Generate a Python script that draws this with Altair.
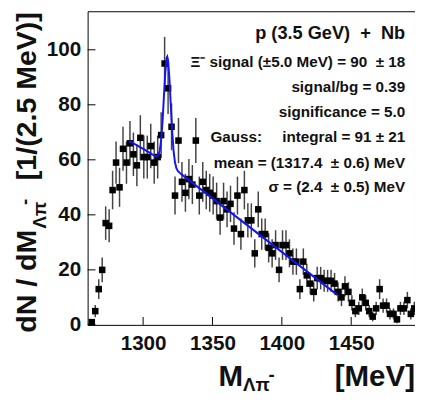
import altair as alt
import pandas as pd

# ---- data ----
counts = [1, 5, 13, 20, 37, 36, 49, 59, 50, 64,
          59, 66, 62, 58, 68, 61, 61, 65, 59, 61,
          69, 95, 86, 72, 47, 67, 52, 48, 53, 51,
          67, 47, 52, 49, 48, 47, 45, 39, 45, 42,
          44, 35, 47, 33, 49, 38, 38, 26, 42, 33,
          33, 28, 26, 29, 20, 29, 29, 26, 23, 23,
          13, 23, 18, 15, 12, 17, 17, 16, 16, 16,
          15, 12, 10, 14, 12, 8, 5, 6, 10, 8,
          5, 3, 6, 13, 7, 7, 4, 4, 2, 6,
          6, 9, 4, 6]
errors = [1.0, 2.2, 3.6, 4.5, 6.1, 6.0, 7.0, 7.7, 7.1, 8.0,
          7.7, 8.1, 7.9, 7.6, 8.2, 7.8, 7.8, 8.1, 7.7, 7.8,
          8.3, 9.7, 9.3, 8.5, 6.9, 8.2, 7.2, 6.9, 7.3, 7.1,
          8.2, 6.9, 7.2, 7.0, 6.9, 6.9, 6.7, 6.2, 6.7, 6.5,
          6.6, 5.9, 6.9, 5.7, 7.0, 6.2, 6.2, 5.1, 6.5, 5.7,
          5.7, 5.3, 5.1, 5.4, 4.5, 5.4, 5.4, 5.1, 4.8, 4.8,
          3.6, 4.8, 4.2, 3.9, 3.5, 4.1, 4.1, 4.0, 4.0, 4.0,
          3.9, 3.5, 3.2, 3.7, 3.5, 2.8, 2.2, 2.4, 3.2, 2.8,
          2.2, 1.7, 2.4, 3.6, 2.6, 2.6, 2.0, 2.0, 1.4, 2.4,
          2.4, 3.0, 2.0, 2.4]
bin_low = 1261.75
bin_width = 2.5
centers = [bin_low + bin_width * (i + 0.5) for i in range(len(counts))]

fit_x = [1290, 1295, 1300, 1305, 1308, 1310, 1311, 1312, 1313, 1314,
         1315, 1316, 1317, 1317.4, 1318, 1319, 1320, 1321, 1322, 1323,
         1324, 1325, 1327, 1330, 1340, 1440]
fit_y = [66.8, 65.4, 64.0, 62.5, 61.5, 61.2, 61.7, 63.4, 67.2, 73.9,
         83.0, 91.8, 97.1, 97.5, 96.1, 89.1, 79.3, 69.9, 63.0, 59.0,
         57.0, 56.0, 55.0, 53.8, 49.9, 10.9]

x_ticks = [1300, 1350, 1400, 1450]
y_ticks = [0, 20, 40, 60, 80, 100]

hist = pd.DataFrame({
    "x": centers,
    "y": counts,
    "lo": [c - e for c, e in zip(counts, errors)],
    "hi": [c + e for c, e in zip(counts, errors)],
})
fit = pd.DataFrame({"x": fit_x, "y": fit_y})
xt = pd.DataFrame({"t": x_ticks})
yt = pd.DataFrame({"t": y_ticks})
one = pd.DataFrame({"a": [0]})

W, H = 333, 319
FONT = "Liberation Sans"
SP = "\u00a0"

xs = alt.Scale(domain=[1260, 1496], nice=False, zero=False)
ys = alt.Scale(domain=[0, 114], nice=False, zero=True)
xaxis = alt.Axis(values=x_ticks, ticks=False, domain=False, grid=False,
                 labelPadding=8, title=None, format="d")
yaxis = alt.Axis(values=y_ticks, ticks=False, domain=False, grid=False,
                 labelPadding=7, title=None)

err = alt.Chart(hist).mark_rule(color="#444444", strokeWidth=1.5).encode(
    x=alt.X("x:Q", scale=xs, axis=xaxis),
    y=alt.Y("lo:Q", scale=ys, axis=yaxis),
    y2="hi:Q",
)
pts = alt.Chart(hist).mark_square(size=44, color="black", opacity=1, filled=True).encode(
    x=alt.X("x:Q", scale=xs, axis=xaxis),
    y=alt.Y("y:Q", scale=ys, axis=yaxis),
)
line = alt.Chart(fit).mark_line(color="#1414f0", strokeWidth=2).encode(
    x=alt.X("x:Q", scale=xs, axis=xaxis),
    y=alt.Y("y:Q", scale=ys, axis=yaxis),
)
xtick = alt.Chart(xt).mark_rule(color="black", strokeWidth=1).encode(
    x=alt.X("t:Q", scale=xs, axis=xaxis),
    y=alt.value(H), y2=alt.value(H - 8),
)
ytick = alt.Chart(yt).mark_rule(color="black", strokeWidth=1).encode(
    y=alt.Y("t:Q", scale=ys, axis=yaxis),
    x=alt.value(0), x2=alt.value(8),
)


def txt(s, x, y, size, align="right", angle=0, baseline="alphabetic"):
    return alt.Chart(one).mark_text(
        text=s, font=FONT, fontWeight="bold", fontSize=size, align=align,
        baseline=baseline, angle=angle, color="#111111",
    ).encode(x=alt.value(x), y=alt.value(y))


R = 323
texts = [
    txt("p (3.5 GeV)" + SP * 2 + "+" + SP * 2 + "Nb", R, 28.5, 18.5),
    txt("Ξ⁻ signal (±5.0 MeV) = 90" + SP * 2 + "± 18", R, 57, 15.5),
    txt("signal/bg = 0.39", R, 82, 15.5),
    txt("significance = 5.0", R, 107.5, 15.5),
    txt("Gauss:", 125, 133, 15.5, align="left"),
    txt("integral = 91 ± 21", R, 133, 15.5),
    txt("mean = (1317.4" + SP * 2 + "± 0.6) MeV", R, 159, 15.5),
    txt("σ = (2.4" + SP * 2 + "± 0.5) MeV", R, 184, 15.5),
    # x title
    txt("M", 133, 381, 30, align="left"),
    txt("Λπ", 158, 386.5, 19, align="left"),
    txt("-", 184, 376, 19, align="left"),
    txt("[MeV]", 333, 381, 30, align="right"),
    # y title (rotated)
    txt("dN / dM", -53, 327, 29, align="left", angle=270),
    txt("Λπ", -42, 221, 19, align="left", angle=270),
    txt("-", -58, 197, 19, align="left", angle=270),
    txt("[1/(2.5 MeV)]", -53, 1, 29, align="right", angle=270),
]

chart = alt.layer(err, pts, line, xtick, ytick, *texts).properties(
    width=W, height=H,
    autosize=alt.AutoSizeParams(type="none"),
    padding={"left": 81, "top": 0, "right": 0, "bottom": 68},
).configure_view(
    stroke="black", strokeWidth=1,
).configure_axis(
    labelFont=FONT, labelFontWeight="bold", labelFontSize=21, labelColor="#111111",
)

chart.save("out.html", embed_options={"renderer": "svg", "actions": False})
